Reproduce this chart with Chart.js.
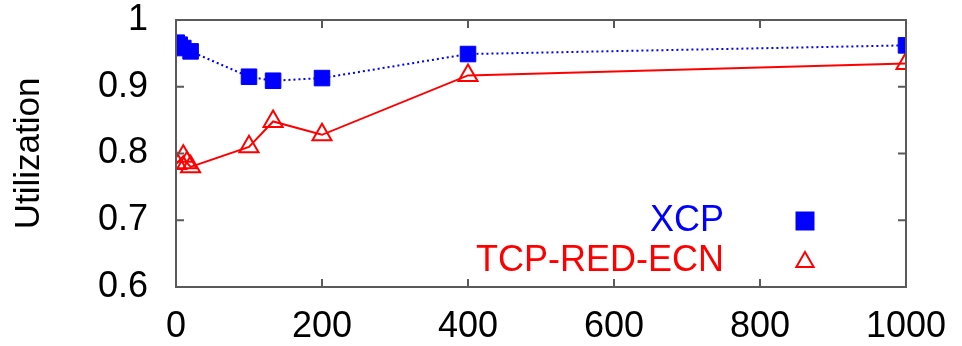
<!DOCTYPE html>
<html>
<head>
<meta charset="utf-8">
<script src="https://cdn.jsdelivr.net/npm/chart.js@4/dist/chart.umd.min.js"></script>
<style>
  html, body { margin: 0; padding: 0; background: #fff; }
  #wrap { width: 962px; height: 346px; }
</style>
</head>
<body>
<div id="wrap"><canvas id="chart" width="962" height="346"></canvas></div>
<script>
const xcpX = [1, 5, 10, 20, 100, 133, 200, 400, 1000];
const xcpUtil = [0.966, 0.963, 0.958, 0.953, 0.915, 0.909, 0.913, 0.949, 0.962];
const tcpX = [1, 10, 15, 20, 100, 133, 200, 400, 1000];
const tcpUtil = [0.785, 0.796, 0.786, 0.780, 0.810, 0.848, 0.828, 0.917, 0.935];
const xTicks = [0, 200, 400, 600, 800, 1000];
const yTicks = [0.6, 0.7, 0.8, 0.9, 1];
const seriesNames = ['XCP', 'TCP-RED-ECN'];

const FONT = 'Liberation Sans, Arial, Helvetica, sans-serif';

// box round the plot + inward tick marks + gnuplot-style legend
const framePlugin = {
    id: 'frame',
    afterDatasetsDraw(chart) {
        const { ctx, chartArea: a, scales } = chart;
        ctx.save();
        ctx.strokeStyle = '#5a5a5a';
        ctx.lineWidth = 2;
        ctx.strokeRect(a.left, a.top, a.right - a.left, a.bottom - a.top);
        ctx.beginPath();
        yTicks.slice(1, -1).forEach(v => {
            const y = scales.y.getPixelForValue(v);
            ctx.moveTo(a.left, y); ctx.lineTo(a.left + 8, y);
            ctx.moveTo(a.right, y); ctx.lineTo(a.right - 8, y);
        });
        xTicks.slice(1, -1).forEach(v => {
            const x = scales.x.getPixelForValue(v);
            ctx.moveTo(x, a.bottom); ctx.lineTo(x, a.bottom - 8);
            ctx.moveTo(x, a.top); ctx.lineTo(x, a.top + 8);
        });
        ctx.stroke();

        // legend
        ctx.font = '36px ' + FONT;
        ctx.textAlign = 'right';
        ctx.textBaseline = 'middle';
        const rows = [221, 261];
        chart.data.datasets.forEach((ds, i) => {
            ctx.fillStyle = ds.borderColor;
            ctx.fillText(seriesNames[i], 724, rows[i]);
            ctx.strokeStyle = ds.borderColor;
            ctx.fillStyle = ds.pointBackgroundColor;
            ctx.lineWidth = 2;
            Chart.helpers.drawPoint(ctx, {
                pointStyle: ds.pointStyle,
                radius: i === 0 ? 12 : 10,
                borderWidth: 2
            }, 805, rows[i] + (i === 1 ? 1 : 0));
        });
        ctx.restore();
    }
};

const noPad = s => { s.paddingLeft = 0; s.paddingRight = 0; s.paddingTop = 0; s.paddingBottom = 0; };

new Chart(document.getElementById('chart'), {
    type: 'line',
    data: {
        datasets: [{
            label: seriesNames[0],
            data: xcpX.map((x, i) => ({ x: x, y: xcpUtil[i] })),
            borderColor: '#0000ff',
            backgroundColor: '#0000ff',
            pointBackgroundColor: '#0000ff',
            borderWidth: 2,
            borderDash: [2, 3],
            pointStyle: 'rect',
            pointRadius: 11,
            pointBorderWidth: 1,
            tension: 0
        }, {
            label: seriesNames[1],
            data: tcpX.map((x, i) => ({ x: x, y: tcpUtil[i] })),
            borderColor: '#ff0000',
            backgroundColor: 'rgba(255,255,255,0)',
            pointBackgroundColor: 'rgba(255,255,255,0)',
            borderWidth: 2,
            pointStyle: 'triangle',
            pointRadius: 11,
            pointBorderWidth: 2,
            tension: 0
        }]
    },
    options: {
        responsive: false,
        animation: false,
        events: [],
        layout: { padding: { top: 20, right: 56, left: 0, bottom: 0 } },
        plugins: {
            legend: { display: false },
            tooltip: { enabled: false }
        },
        scales: {
            x: {
                type: 'linear',
                min: 0,
                max: 1000,
                afterFit: s => { s.height = 59; noPad(s); },
                afterBuildTicks: s => { s.ticks = xTicks.map(v => ({ value: v })); },
                grid: { display: false, drawTicks: false },
                border: { display: false },
                ticks: {
                    padding: 18,
                    color: '#000',
                    maxRotation: 0,
                    font: { family: FONT, size: 36 },
                    callback: v => String(v)
                }
            },
            y: {
                min: 0.6,
                max: 1,
                afterFit: s => { s.width = 176; noPad(s); },
                afterBuildTicks: s => { s.ticks = yTicks.map(v => ({ value: v })); },
                grid: { display: false, drawTicks: false },
                border: { display: false },
                title: {
                    display: true,
                    text: 'Utilization',
                    color: '#000',
                    padding: { top: 8, bottom: 0 },
                    font: { family: FONT, size: 35 }
                },
                ticks: {
                    padding: 28,
                    color: '#000',
                    font: { family: FONT, size: 36 },
                    callback: v => String(Math.round(v * 10) / 10)
                }
            }
        }
    },
    plugins: [framePlugin]
});
</script>
</body>
</html>
